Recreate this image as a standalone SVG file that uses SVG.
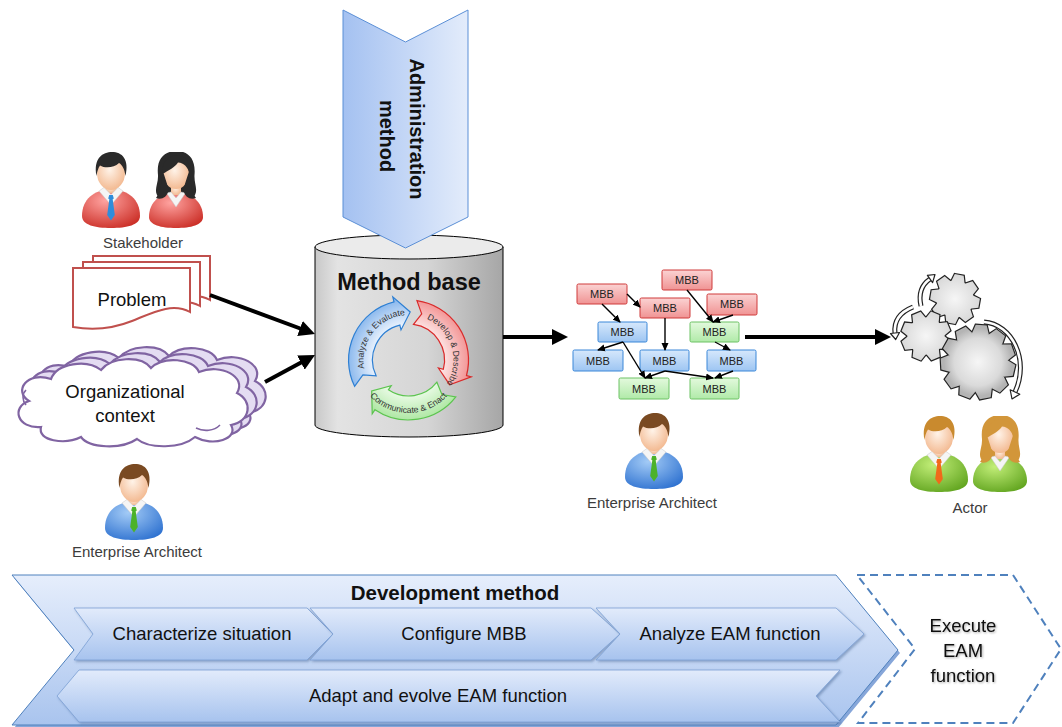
<svg xmlns="http://www.w3.org/2000/svg" width="1062" height="727" viewBox="0 0 1062 727">
<defs>
<style>
text{font-family:"Liberation Sans",Arial,Helvetica,sans-serif}
.lbl{font-size:15px;fill:#3c3c3c;text-anchor:middle}
.big{font-size:18.5px;fill:#111;text-anchor:middle}
.mbbt{font-size:11px;fill:#222;text-anchor:middle}
.cyc{font-size:8.7px;fill:#333}
.conn{stroke:#000;fill:none}
.thick{stroke-width:4;marker-end:url(#AH)}
.thin{stroke-width:1.4;marker-end:url(#ah)}
.mr{fill:url(#gMR);stroke:#cf3a3a;stroke-width:1}
.mb{fill:url(#gMB);stroke:#3a87d8;stroke-width:1}
.mg{fill:url(#gMG);stroke:#6cc264;stroke-width:1}
.doc{fill:#fff;stroke:#c0504d;stroke-width:2}
.cloud{stroke:#8064a2;stroke-width:2.2}
.step{fill:url(#gStep);stroke:#7b9fd4;stroke-width:0.8;filter:url(#sh)}
.hollow{fill:none;stroke:#222;stroke-width:5;stroke-linecap:butt}
.hollow-in{fill:none;stroke:#fff;stroke-width:2.6}
.head{fill:#fff;stroke:#222;stroke-width:1.2;stroke-linejoin:round}
</style>

<linearGradient id="gAdmin" x1="0" y1="0" x2="1" y2="0">
<stop offset="0" stop-color="#a4c1f1"/><stop offset="1" stop-color="#e3ecfb"/>
</linearGradient>
<linearGradient id="gCyl" x1="0" y1="0" x2="1" y2="0">
<stop offset="0" stop-color="#c8c8c8"/><stop offset="0.12" stop-color="#e3e3e3"/><stop offset="0.6" stop-color="#d5d5d5"/><stop offset="1" stop-color="#a6a6a6"/>
</linearGradient>
<radialGradient id="gCycB" gradientUnits="userSpaceOnUse" cx="408.5" cy="360" r="62">
<stop offset="0.55" stop-color="#eef5fe"/><stop offset="1" stop-color="#86b5ec"/>
</radialGradient>
<radialGradient id="gCycR" gradientUnits="userSpaceOnUse" cx="408.5" cy="360" r="62">
<stop offset="0.55" stop-color="#fde6e6"/><stop offset="1" stop-color="#f29191"/>
</radialGradient>
<radialGradient id="gCycG" gradientUnits="userSpaceOnUse" cx="408.5" cy="360" r="62">
<stop offset="0.55" stop-color="#ebfbe7"/><stop offset="1" stop-color="#abe6a0"/>
</radialGradient>
<linearGradient id="gMR" x1="0" y1="0" x2="0" y2="1">
<stop offset="0" stop-color="#fbd3d3"/><stop offset="1" stop-color="#f09393"/>
</linearGradient>
<linearGradient id="gMB" x1="0" y1="0" x2="0" y2="1">
<stop offset="0" stop-color="#d6e8fc"/><stop offset="1" stop-color="#9dc5f2"/>
</linearGradient>
<linearGradient id="gMG" x1="0" y1="0" x2="0" y2="1">
<stop offset="0" stop-color="#e3f9dd"/><stop offset="1" stop-color="#b0eaa8"/>
</linearGradient>
<linearGradient id="gDev" x1="0" y1="0" x2="0" y2="1">
<stop offset="0" stop-color="#e6eefc"/><stop offset="1" stop-color="#a9c4ee"/>
</linearGradient>
<linearGradient id="gStep" x1="0" y1="0" x2="0" y2="1">
<stop offset="0" stop-color="#e2ebfb"/><stop offset="1" stop-color="#a7c3ee"/>
</linearGradient>
<radialGradient id="gSkin" cx="0.45" cy="0.4" r="0.65">
<stop offset="0" stop-color="#fff3e8"/><stop offset="1" stop-color="#f2b68c"/>
</radialGradient>
<radialGradient id="gBodyRed" cx="0.4" cy="0.3" r="0.8">
<stop offset="0" stop-color="#ffa3a0"/><stop offset="1" stop-color="#c92a22"/>
</radialGradient>
<radialGradient id="gBodyBlue" cx="0.4" cy="0.3" r="0.8">
<stop offset="0" stop-color="#a3cbf6"/><stop offset="1" stop-color="#2b6fcf"/>
</radialGradient>
<radialGradient id="gBodyGreen" cx="0.4" cy="0.3" r="0.8">
<stop offset="0" stop-color="#c2ee78"/><stop offset="1" stop-color="#5ea21c"/>
</radialGradient>
<radialGradient id="gGear" gradientUnits="userSpaceOnUse" cx="0" cy="0" r="34">
<stop offset="0" stop-color="#f6f6f6"/><stop offset="0.7" stop-color="#dadada"/><stop offset="1" stop-color="#b4b4b4"/>
</radialGradient>

<filter id="sh" x="-5%" y="-20%" width="110%" height="150%">
<feDropShadow dx="1.5" dy="1.5" stdDeviation="1.2" flood-color="#3c5a8a" flood-opacity="0.45"/>
</filter>
<filter id="tsh" x="-10%" y="-20%" width="120%" height="150%">
<feDropShadow dx="1" dy="1" stdDeviation="1" flood-color="#000" flood-opacity="0.35"/>
</filter>

<marker id="AH" viewBox="0 0 16 16" refX="6" refY="8" markerWidth="16" markerHeight="16" markerUnits="userSpaceOnUse" orient="auto">
<path d="M0,0 L16,8 L0,16 Z" fill="#000"/>
</marker>
<marker id="ah" viewBox="0 0 8 8" refX="7" refY="4" markerWidth="8" markerHeight="8" markerUnits="userSpaceOnUse" orient="auto">
<path d="M0,0.5 L8,4 L0,7.5 Z" fill="#000"/>
</marker>

<!-- person icons; body, hair and tie colours are set by custom properties on each use -->
<symbol id="man" viewBox="0 0 60 76">
<path style="fill:var(--body)" d="M1,64 C1,47 13,38 30,37 C47,38 59,47 59,64 C59,73 46,76 30,76 C14,76 1,73 1,64 Z"/>
<rect x="24.5" y="31" width="11" height="10" fill="url(#gSkin)"/>
<path d="M18,39 L30,53 L42,39 L37,35.5 L30,42.5 L23,35.5 Z" fill="#f5f5f5" stroke="#c9c9c9" stroke-width="0.5"/>
<path style="fill:var(--tie)" d="M28.2,43 L31.8,43 L32.8,46.5 L31.7,47.2 L33.8,63 L30,68.5 L26.2,63 L28.3,47.2 L27.2,46.5 Z"/>
<ellipse cx="30" cy="21" rx="14" ry="17" fill="url(#gSkin)"/>
<path style="fill:var(--hair)" d="M15.5,24 C12,6 22,0 31,0 C41,0 48.5,7 44.5,24 C43.5,17 41.5,13 38,11 C33,16 24,16.5 19,13.5 C17,16.5 16,20 15.5,24 Z"/>
</symbol>
<symbol id="woman" viewBox="0 0 60 76">
<path style="fill:var(--hair)" d="M12,23 C10,5 20,-1 30.5,-1 C41.5,-1 50,6 48.5,23 C48,31 52,37 49,43 C46,48 40,47 37.5,42 L23,42 C20,47 14,48 11,43 C8,37 12.5,31 12,23 Z"/>
<path style="fill:var(--body)" d="M3,65 C3,50 14,41 30,40 C46,41 57,50 57,65 C57,73 45,76 30,76 C15,76 3,73 3,65 Z"/>
<rect x="25" y="31" width="10" height="12" fill="url(#gSkin)"/>
<path d="M20.5,41 L30,55 L39.5,41 L35,40 L30,46 L25,40 Z" fill="#f5f5f5" stroke="#c9c9c9" stroke-width="0.5"/>
<ellipse cx="30" cy="21.5" rx="13" ry="15.5" fill="url(#gSkin)"/>
<path style="fill:var(--hair)" d="M16.5,22 C15.5,9 22.5,3.5 31,3.5 C38.5,3.5 45,9 43.5,22 C42,15 38,11 32,10.5 C29,15 22.5,18.5 16.5,22 Z"/>
<path style="fill:var(--hair)" d="M16.8,19 C14.5,30 16,38 10,46 C15,48 21,46 22.5,38 C21.5,32 19,26 16.8,19 Z"/>
<path style="fill:var(--hair)" d="M43.2,19 C45.5,30 44,38 50,46 C45,48 39,46 37.5,38 C38.5,32 41,26 43.2,19 Z"/>
</symbol>

<!-- gear parts -->
<path id="tS" d="M-4.5,-24.5 L4.5,-24.5 L7,-16 L-7,-16 Z"/>
<g id="gearS">
<circle r="18.5"/>
<use href="#tS"/><use href="#tS" transform="rotate(45)"/><use href="#tS" transform="rotate(90)"/><use href="#tS" transform="rotate(135)"/>
<use href="#tS" transform="rotate(180)"/><use href="#tS" transform="rotate(225)"/><use href="#tS" transform="rotate(270)"/><use href="#tS" transform="rotate(315)"/>
</g>
<path id="tL" d="M-5.5,-37 L5.5,-37 L8.5,-28 L-8.5,-28 Z"/>
<g id="gearL">
<circle r="29.5"/>
<use href="#tL"/><use href="#tL" transform="rotate(32.73)"/><use href="#tL" transform="rotate(65.45)"/><use href="#tL" transform="rotate(98.18)"/>
<use href="#tL" transform="rotate(130.91)"/><use href="#tL" transform="rotate(163.64)"/><use href="#tL" transform="rotate(196.36)"/><use href="#tL" transform="rotate(229.09)"/>
<use href="#tL" transform="rotate(261.82)"/><use href="#tL" transform="rotate(294.55)"/><use href="#tL" transform="rotate(327.27)"/>
</g>

<!-- cloud outline -->
<path id="cloudShape" d="M32,72 C8,74 2,52 20,46 C4,36 18,16 42,24 C48,8 78,4 92,15 C102,2 132,0 142,13 C154,1 184,3 190,17 C212,8 238,22 228,38 C244,46 242,66 222,70 C230,84 204,92 186,82 C172,94 140,94 128,84 C112,95 80,93 72,82 C56,90 28,86 32,72 Z"/>
<!-- document outline -->
<path id="docShape" d="M73,268 H190 V312 C172,302 152,313 132,321 C112,329 90,330 73,327 Z"/>

<!-- cycle text paths -->
<path id="tpBlue" d="M366.2,375.4 A45,45 0 0 1 412.4,315.2"/>
<path id="tpRed" d="M418.6,316.2 A45,45 0 0 1 441.4,390.7"/>
<path id="tpGreen" d="M365.1,390.4 A53,53 0 0 0 451.9,390.4"/>
</defs>

<rect width="1062" height="727" fill="#fff"/>

<!-- stakeholders -->
<g id="stakeholder">
<use href="#man" x="81" y="152" width="60" height="76" style="--body:url(#gBodyRed);--hair:#2a2a2a;--tie:#2f8ddb"/>
<use href="#woman" x="146" y="152" width="60" height="76" style="--body:url(#gBodyRed);--hair:#2a2a2a"/>
<text class="lbl" x="143" y="248">Stakeholder</text>
</g>

<!-- problem: stacked documents -->
<g id="problem">
<use href="#docShape" class="doc" transform="translate(20,-12)"/>
<use href="#docShape" class="doc" transform="translate(10,-6)"/>
<use href="#docShape" class="doc"/>
<text class="big" x="132" y="306">Problem</text>
</g>

<!-- organizational context: stacked clouds -->
<g id="organizational-context">
<use href="#cloudShape" class="cloud" fill="#e4dcf2" transform="translate(27,343)"/>
<use href="#cloudShape" class="cloud" fill="#e4dcf2" transform="translate(18,349)"/>
<use href="#cloudShape" class="cloud" fill="#fff" transform="translate(9,355)"/>
<path d="M196,428 C204,432 214,431 220,425 M26,405 C22,400 22,394 26,390" fill="none" stroke="#8064a2" stroke-width="1.6"/>
<text class="big" x="125" y="398">Organizational</text>
<text class="big" x="125" y="422">context</text>
</g>

<!-- enterprise architect (left) -->
<g id="architect-left">
<use href="#man" x="103" y="464" width="62" height="76" style="--body:url(#gBodyBlue);--hair:#7a4a22;--tie:#4cb22a"/>
<text class="lbl" x="137" y="557">Enterprise Architect</text>
</g>

<!-- method base cylinder -->
<g id="method-base">
<path d="M315,247 V425 A94,12 0 0 0 503,425 V247 Z" fill="url(#gCyl)" stroke="#000" stroke-width="1"/>
<ellipse cx="409" cy="247" rx="94" ry="12" fill="#ebebeb" stroke="#000" stroke-width="1"/>
<text x="409" y="290" text-anchor="middle" font-weight="bold" font-size="23.5" fill="#111">Method base</text>
<path d="M354.6,386.3 A60,60 0 0 1 394.0,301.8 L392.8,296.9 L410.2,312.0 L401.0,329.9 L399.8,325.1 A36,36 0 0 0 376.1,375.8 L362.9,374.8 Z" fill="url(#gCycB)" stroke="#2d7fd3" stroke-width="1.2"/>
<path d="M416.9,300.6 A60,60 0 0 1 466.5,375.5 L471.3,376.8 L449.6,384.7 L438.4,368.0 L443.3,369.3 A36,36 0 0 0 413.5,324.4 L421.7,313.9 Z" fill="url(#gCycR)" stroke="#d92b2b" stroke-width="1.2"/>
<path d="M455.8,396.9 A60,60 0 0 1 375.0,409.7 L372.2,413.9 L371.7,390.9 L391.2,385.7 L388.4,389.8 A36,36 0 0 0 436.9,382.2 L441.9,394.5 Z" fill="url(#gCycG)" stroke="#5cc44f" stroke-width="1.2"/>
<text class="cyc"><textPath href="#tpBlue" startOffset="50%" text-anchor="middle">Analyze &amp; Evaluate</textPath></text>
<text class="cyc"><textPath href="#tpRed" startOffset="50%" text-anchor="middle">Develop &amp; Describe</textPath></text>
<text class="cyc"><textPath href="#tpGreen" startOffset="50%" text-anchor="middle">Communicate &amp; Enact</textPath></text>
</g>

<!-- administration method -->
<g id="administration-method">
<polygon points="343,10 405.5,42 468,10 468,217 405.5,248 343,217" fill="url(#gAdmin)" stroke="#5b8fd6" stroke-width="1"/>
<text transform="translate(410,129) rotate(90)" text-anchor="middle" font-weight="bold" font-size="20" fill="#111">Administration</text>
<text transform="translate(380,136) rotate(90)" text-anchor="middle" font-weight="bold" font-size="20" fill="#111">method</text>
</g>

<!-- method building blocks -->
<g id="mbb-graph">
<g id="mbb-r1"><rect class="mr" x="577" y="284" width="50" height="20" rx="1.5"/><text class="mbbt" x="602" y="298">MBB</text></g>
<g id="mbb-r2"><rect class="mr" x="662" y="270" width="50" height="20" rx="1.5"/><text class="mbbt" x="687" y="284">MBB</text></g>
<g id="mbb-r3"><rect class="mr" x="640" y="298" width="50" height="20" rx="1.5"/><text class="mbbt" x="665" y="312">MBB</text></g>
<g id="mbb-r4"><rect class="mr" x="707" y="294" width="50" height="21" rx="1.5"/><text class="mbbt" x="732" y="308">MBB</text></g>
<g id="mbb-b1"><rect class="mb" x="598" y="322" width="49" height="20" rx="1.5"/><text class="mbbt" x="622.5" y="336">MBB</text></g>
<g id="mbb-g1"><rect class="mg" x="690" y="322" width="49" height="20" rx="1.5"/><text class="mbbt" x="714.5" y="336">MBB</text></g>
<g id="mbb-b2"><rect class="mb" x="573" y="350" width="50" height="21" rx="1.5"/><text class="mbbt" x="598" y="364.5">MBB</text></g>
<g id="mbb-b3"><rect class="mb" x="640" y="350" width="49" height="21" rx="1.5"/><text class="mbbt" x="664.5" y="364.5">MBB</text></g>
<g id="mbb-b4"><rect class="mb" x="707" y="350" width="49" height="21" rx="1.5"/><text class="mbbt" x="731.5" y="364.5">MBB</text></g>
<g id="mbb-g2"><rect class="mg" x="619" y="378" width="50" height="21" rx="1.5"/><text class="mbbt" x="644" y="392.5">MBB</text></g>
<g id="mbb-g3"><rect class="mg" x="690" y="378" width="49" height="21" rx="1.5"/><text class="mbbt" x="714.5" y="392.5">MBB</text></g>
</g>

<!-- enterprise architect (middle) -->
<g id="architect-middle">
<use href="#man" x="623" y="413" width="62" height="76" style="--body:url(#gBodyBlue);--hair:#7a4a22;--tie:#4cb22a"/>
<text class="lbl" x="652" y="508">Enterprise Architect</text>
</g>

<!-- gears -->
<g id="gears">
<use href="#gearS" transform="translate(955,299) rotate(10)" fill="#222" stroke="#222" stroke-width="2.4"/>
<use href="#gearS" transform="translate(955,299) rotate(10)" fill="url(#gGear)"/>
<use href="#gearS" transform="translate(926,336) rotate(22)" fill="#222" stroke="#222" stroke-width="2.4"/>
<use href="#gearS" transform="translate(926,336) rotate(22)" fill="url(#gGear)"/>
<use href="#gearL" transform="translate(978,362) rotate(5)" fill="#222" stroke="#222" stroke-width="2.4"/>
<use href="#gearL" transform="translate(978,362) rotate(5)" fill="url(#gGear)"/>
<path class="hollow" d="M921,306 Q917,288 930,279"/>
<path class="hollow-in" d="M921,306 Q917,288 930,279"/>
<polygon class="head" points="932.6,282.7 927.4,275.3 935,274.5"/>
<path class="hollow" d="M913,307 Q893,315 895,333"/>
<path class="hollow-in" d="M913,307 Q893,315 895,333"/>
<polygon class="head" points="899.5,332.5 890.5,333.5 895.7,339.5"/>
<path class="hollow" d="M984,322 C1012,324 1030,360 1015,392"/>
<path class="hollow-in" d="M984,322 C1012,324 1030,360 1015,392"/>
<polygon class="head" points="1019.8,394.2 1010.2,389.8 1012,399"/>
</g>

<!-- actors -->
<g id="actor">
<use href="#man" x="909" y="416" width="60" height="76" style="--body:url(#gBodyGreen);--hair:#c98a2e;--tie:#f06a1a"/>
<use href="#woman" x="970" y="416" width="60" height="76" style="--body:url(#gBodyGreen);--hair:#d2963a"/>
<text class="lbl" x="970" y="513">Actor</text>
</g>

<!-- development method -->
<g id="development-method">
<polygon points="14,578 838,578 900,653 838,728 14,728 76,653" fill="#86a6d9"/>
<polygon points="12,575 836,575 898,650 836,725 12,725 74,650" fill="url(#gDev)" stroke="#4f81bd" stroke-width="1"/>
<text x="455" y="600" text-anchor="middle" font-weight="bold" font-size="20.5" fill="#111">Development method</text>
</g>
<g id="characterize-situation">
<polygon class="step" points="74,608 307,608 333,634 307,660 74,660 93,634"/>
<text class="big" x="202" y="640">Characterize situation</text>
</g>
<g id="configure-mbb">
<polygon class="step" points="310,608 591,608 620,634 591,660 310,660 333,634"/>
<text class="big" x="464" y="640">Configure MBB</text>
</g>
<g id="analyze-eam-function">
<polygon class="step" points="596,608 836,608 864,634 836,660 596,660 620,634"/>
<text class="big" x="730" y="640">Analyze EAM function</text>
</g>
<g id="adapt-evolve">
<polygon class="step" points="79,670 840,670 816,696 840,722 79,722 57,696"/>
<text class="big" x="438" y="702">Adapt and evolve EAM function</text>
</g>

<!-- execute -->
<g id="execute-eam-function">
<polygon points="857,575 1013,575 1061,649 1013,723 858,723 915,649" fill="#fff" stroke="#4f81bd" stroke-width="2" stroke-dasharray="8 5"/>
<g filter="url(#tsh)">
<text class="big" x="963" y="632">Execute</text>
<text class="big" x="963" y="657">EAM</text>
<text class="big" x="963" y="682">function</text>
</g>
</g>

<!-- connectors -->
<g id="connectors" class="conn">
<line class="thick" x1="210" y1="295" x2="305.6" y2="330.5"/>
<line class="thick" x1="265" y1="382" x2="306.2" y2="359.8"/>
<line class="thick" x1="503" y1="337" x2="558" y2="337"/>
<line class="thick" x1="745" y1="337" x2="881" y2="337"/>
<line class="thin" x1="627" y1="294" x2="640" y2="307"/>
<line class="thin" x1="602" y1="304" x2="620" y2="322"/>
<line class="thin" x1="665" y1="318" x2="665" y2="350"/>
<line class="thin" x1="687" y1="290" x2="713" y2="322"/>
<line class="thin" x1="733" y1="315" x2="713" y2="322"/>
<line class="thin" x1="623" y1="342" x2="598" y2="350"/>
<line class="thin" x1="623" y1="342" x2="645" y2="378"/>
<line class="thin" x1="715" y1="342" x2="730" y2="350"/>
<line class="thin" x1="665" y1="371" x2="645" y2="378"/>
<line class="thin" x1="665" y1="371" x2="713" y2="378"/>
<line class="thin" x1="733" y1="371" x2="715" y2="378"/>
</g>
</svg>
